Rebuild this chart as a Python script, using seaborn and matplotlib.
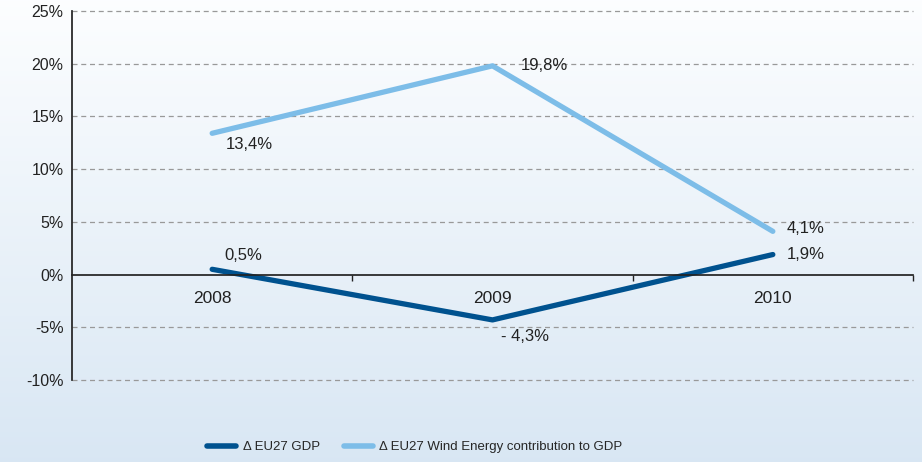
import numpy as np
import pandas as pd
import matplotlib.pyplot as plt
import seaborn as sns

# data
years = ["2008", "2009", "2010"]
gdp = [0.5, -4.3, 1.9]
wind = [13.4, 19.8, 4.1]
gdp_labels = ["0,5%", "- 4,3%", "1,9%"]
wind_labels = ["13,4%", "19,8%", "4,1%"]

dark_blue = "#00528f"
light_blue = "#7dbde8"

sns.set_theme(style="white")
plt.rcParams["font.family"] = ["Liberation Sans Narrow", "Liberation Sans", "DejaVu Sans"]

df = pd.DataFrame({
    "pos": list(range(len(years))) * 2,
    "value": gdp + wind,
    "series": ["\u0394 EU27 GDP"] * 3 + ["\u0394 EU27 Wind Energy contribution to GDP"] * 3,
})

fig = plt.figure(figsize=(9.22, 4.62), dpi=100)

# gradient background
bg = fig.add_axes([0, 0, 1, 1], zorder=-10)
grad = np.linspace(0, 1, 256).reshape(-1, 1)
top = np.array([0.99, 0.995, 1.0])
bot = np.array([0.85, 0.905, 0.955])
img = top + (bot - top) * grad[..., None]
bg.imshow(img, aspect="auto", extent=[0, 1, 0, 1], origin="upper")
bg.axis("off")

ax = fig.add_axes([72 / 922, 1 - 380 / 462, (913 - 72) / 922, (380 - 11) / 462])
ax.patch.set_alpha(0)

sns.lineplot(data=df, x="pos", y="value", hue="series",
             palette=[dark_blue, light_blue], linewidth=3.8,
             solid_capstyle="round", ax=ax, legend=True)

# move the x axis to zero first (it resets tick settings)
ax.spines["bottom"].set_position(("data", 0))
ax.spines["bottom"].set_color("#222222")
ax.spines["left"].set_color("#222222")
ax.spines["right"].set_visible(False)
ax.spines["top"].set_visible(False)

ax.set_xlim(-0.5, 2.5)
ax.set_ylim(-10, 25)
ax.set_yticks(range(-10, 30, 5))
ax.set_yticklabels([f"{v}%" for v in range(-10, 30, 5)])
ax.set_xticks(range(3))
ax.set_xticklabels(years)
ax.set_xticks([0.5, 1.5, 2.5], minor=True)
ax.tick_params(axis="x", which="major", length=0, pad=12, labelsize=12.5, labelcolor="#222222")
ax.tick_params(axis="x", which="minor", bottom=True, length=4, width=1,
               direction="out", color="#222222")
ax.tick_params(axis="y", length=0, pad=6, labelsize=11.5, labelcolor="#222222")
ax.set_xlabel("")
ax.set_ylabel("")

for v in range(-10, 30, 5):
    if v != 0:
        ax.axhline(v, color="#999999", linestyle=(0, (4, 3)), linewidth=0.9,
                   zorder=0, clip_on=False)

# value labels
fs = 12
ax.annotate(wind_labels[0], (0, wind[0]), xytext=(10, -8), textcoords="offset points",
            fontsize=fs, ha="left", va="center", color="#222222")
ax.annotate(wind_labels[1], (1, wind[1]), xytext=(20, 0), textcoords="offset points",
            fontsize=fs, ha="left", va="center", color="#222222")
ax.annotate(wind_labels[2], (2, wind[2]), xytext=(10, 2), textcoords="offset points",
            fontsize=fs, ha="left", va="center", color="#222222")
ax.annotate(gdp_labels[0], (0, gdp[0]), xytext=(9, 10), textcoords="offset points",
            fontsize=fs, ha="left", va="center", color="#222222")
ax.annotate(gdp_labels[1], (1, gdp[1]), xytext=(6, -12), textcoords="offset points",
            fontsize=fs, ha="left", va="center", color="#222222")
ax.annotate(gdp_labels[2], (2, gdp[2]), xytext=(10, 0), textcoords="offset points",
            fontsize=fs, ha="left", va="center", color="#222222")

handles, labels = ax.get_legend_handles_labels()
ax.get_legend().remove()
leg = fig.legend(handles, labels, loc="center", bbox_to_anchor=(0.45, 1 - 447 / 462),
                 ncol=2, frameon=False, fontsize=9.5, handlelength=2.2,
                 columnspacing=1.8, handletextpad=0.5)
for line in leg.get_lines():
    line.set_linewidth(4)

fig.savefig("out.png", dpi=100)
